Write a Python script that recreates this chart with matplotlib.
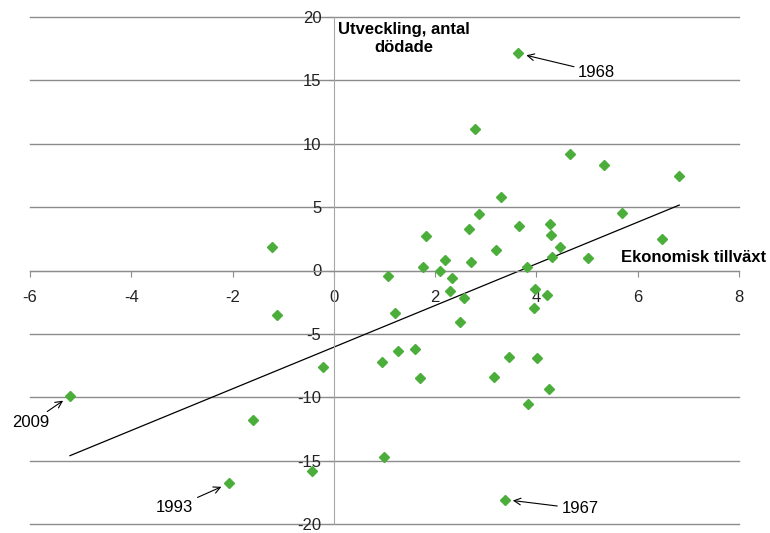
import matplotlib.pyplot as plt
import numpy as np

plt.rcParams['font.family'] = ['Liberation Sans', 'DejaVu Sans']
plt.rcParams['axes.unicode_minus'] = False

# economic growth (%) vs change in number of killed
growth = [-5.21, -2.07, -1.59, -1.22, -1.13, -0.43, -0.21, 0.95, 0.99, 1.06,
          1.20, 1.26, 1.61, 1.70, 1.76, 1.81, 2.09, 2.19, 2.30, 2.34,
          2.49, 2.56, 2.67, 2.71, 2.78, 2.87, 3.16, 3.20, 3.31, 3.37,
          3.46, 3.64, 3.66, 3.82, 3.84, 3.95, 3.97, 4.02, 4.21, 4.24,
          4.26, 4.28, 4.30, 4.46, 4.67, 5.01, 5.33, 5.69, 6.48, 6.82]
killed = [-9.9, -16.8, -11.8, 1.85, -3.55, -15.8, -7.58, -7.24, -14.7, -0.41,
          -3.38, -6.32, -6.19, -8.50, 0.30, 2.70, 0.0, 0.83, -1.62, -0.62,
          -4.04, -2.14, 3.27, 0.69, 11.16, 4.43, -8.40, 1.64, 5.82, -18.07,
          -6.82, 17.13, 3.53, 0.30, -10.5, -2.96, -1.48, -6.88, -1.91, -9.32,
          3.67, 2.78, 1.09, 1.85, 9.19, 1.01, 8.32, 4.51, 2.46, 7.45]

# labelled years: (year, point, label position)
years = ['1968', '1967', '2009', '1993']
year_pts = [(3.64, 17.13), (3.37, -18.07), (-5.21, -9.9), (-2.07, -16.8)]
year_txt = [(5.19, 15.65), (4.86, -18.8), (-5.98, -12.0), (-3.14, -18.7)]

green = '#4bae3a'
grid = '#8c8c8c'

fig = plt.figure(figsize=(7.7, 5.33), dpi=100)
ax = fig.add_axes([30/770, 9/533, 709/770, 507/533])

ax.set_xlim(-6, 8)
ax.set_ylim(-20, 20)
ax.set_xticks(range(-6, 9, 2))
ax.set_yticks(range(-20, 21, 5))
for y in range(-20, 21, 5):
    ax.axhline(y, color=grid, lw=1, zorder=1, clip_on=False)

for s in ['top', 'right']:
    ax.spines[s].set_visible(False)
ax.spines['left'].set_position(('data', 0))
ax.spines['bottom'].set_position(('data', 0))
ax.spines['left'].set_color('#a6a6a6')
ax.spines['bottom'].set_color(grid)
ax.tick_params(axis='x', direction='out', length=4, pad=10, color=grid, labelsize=12)
ax.tick_params(axis='y', direction='out', length=4, pad=5, color=grid, labelsize=12)
for lab in ax.get_xticklabels() + ax.get_yticklabels():
    lab.set_color('#222222')

# trend line
xs = np.array(growth)
k, m = np.polyfit(xs, killed, 1)
xl = np.array([xs.min(), xs.max()])
ax.plot(xl, k*xl + m, color='black', lw=0.9, zorder=2)

ax.plot(growth, killed, 'D', color=green, ms=4.6, mec=green, zorder=3)

for yr, p, t in zip(years, year_pts, year_txt):
    ax.annotate(yr, xy=p, xytext=t, ha='center', va='center', fontsize=12,
                arrowprops=dict(arrowstyle='->', color='black', lw=0.8,
                                shrinkA=1, shrinkB=6))

ax.text(1.38, 18.3, 'Utveckling, antal\ndödade', ha='center', va='center',
        fontsize=12, fontweight='bold', linespacing=1.2)
ax.text(8.53, 1.0, 'Ekonomisk tillväxt', ha='right', va='center',
        fontsize=12, fontweight='bold', clip_on=False)

fig.savefig('out.png', dpi=100)
